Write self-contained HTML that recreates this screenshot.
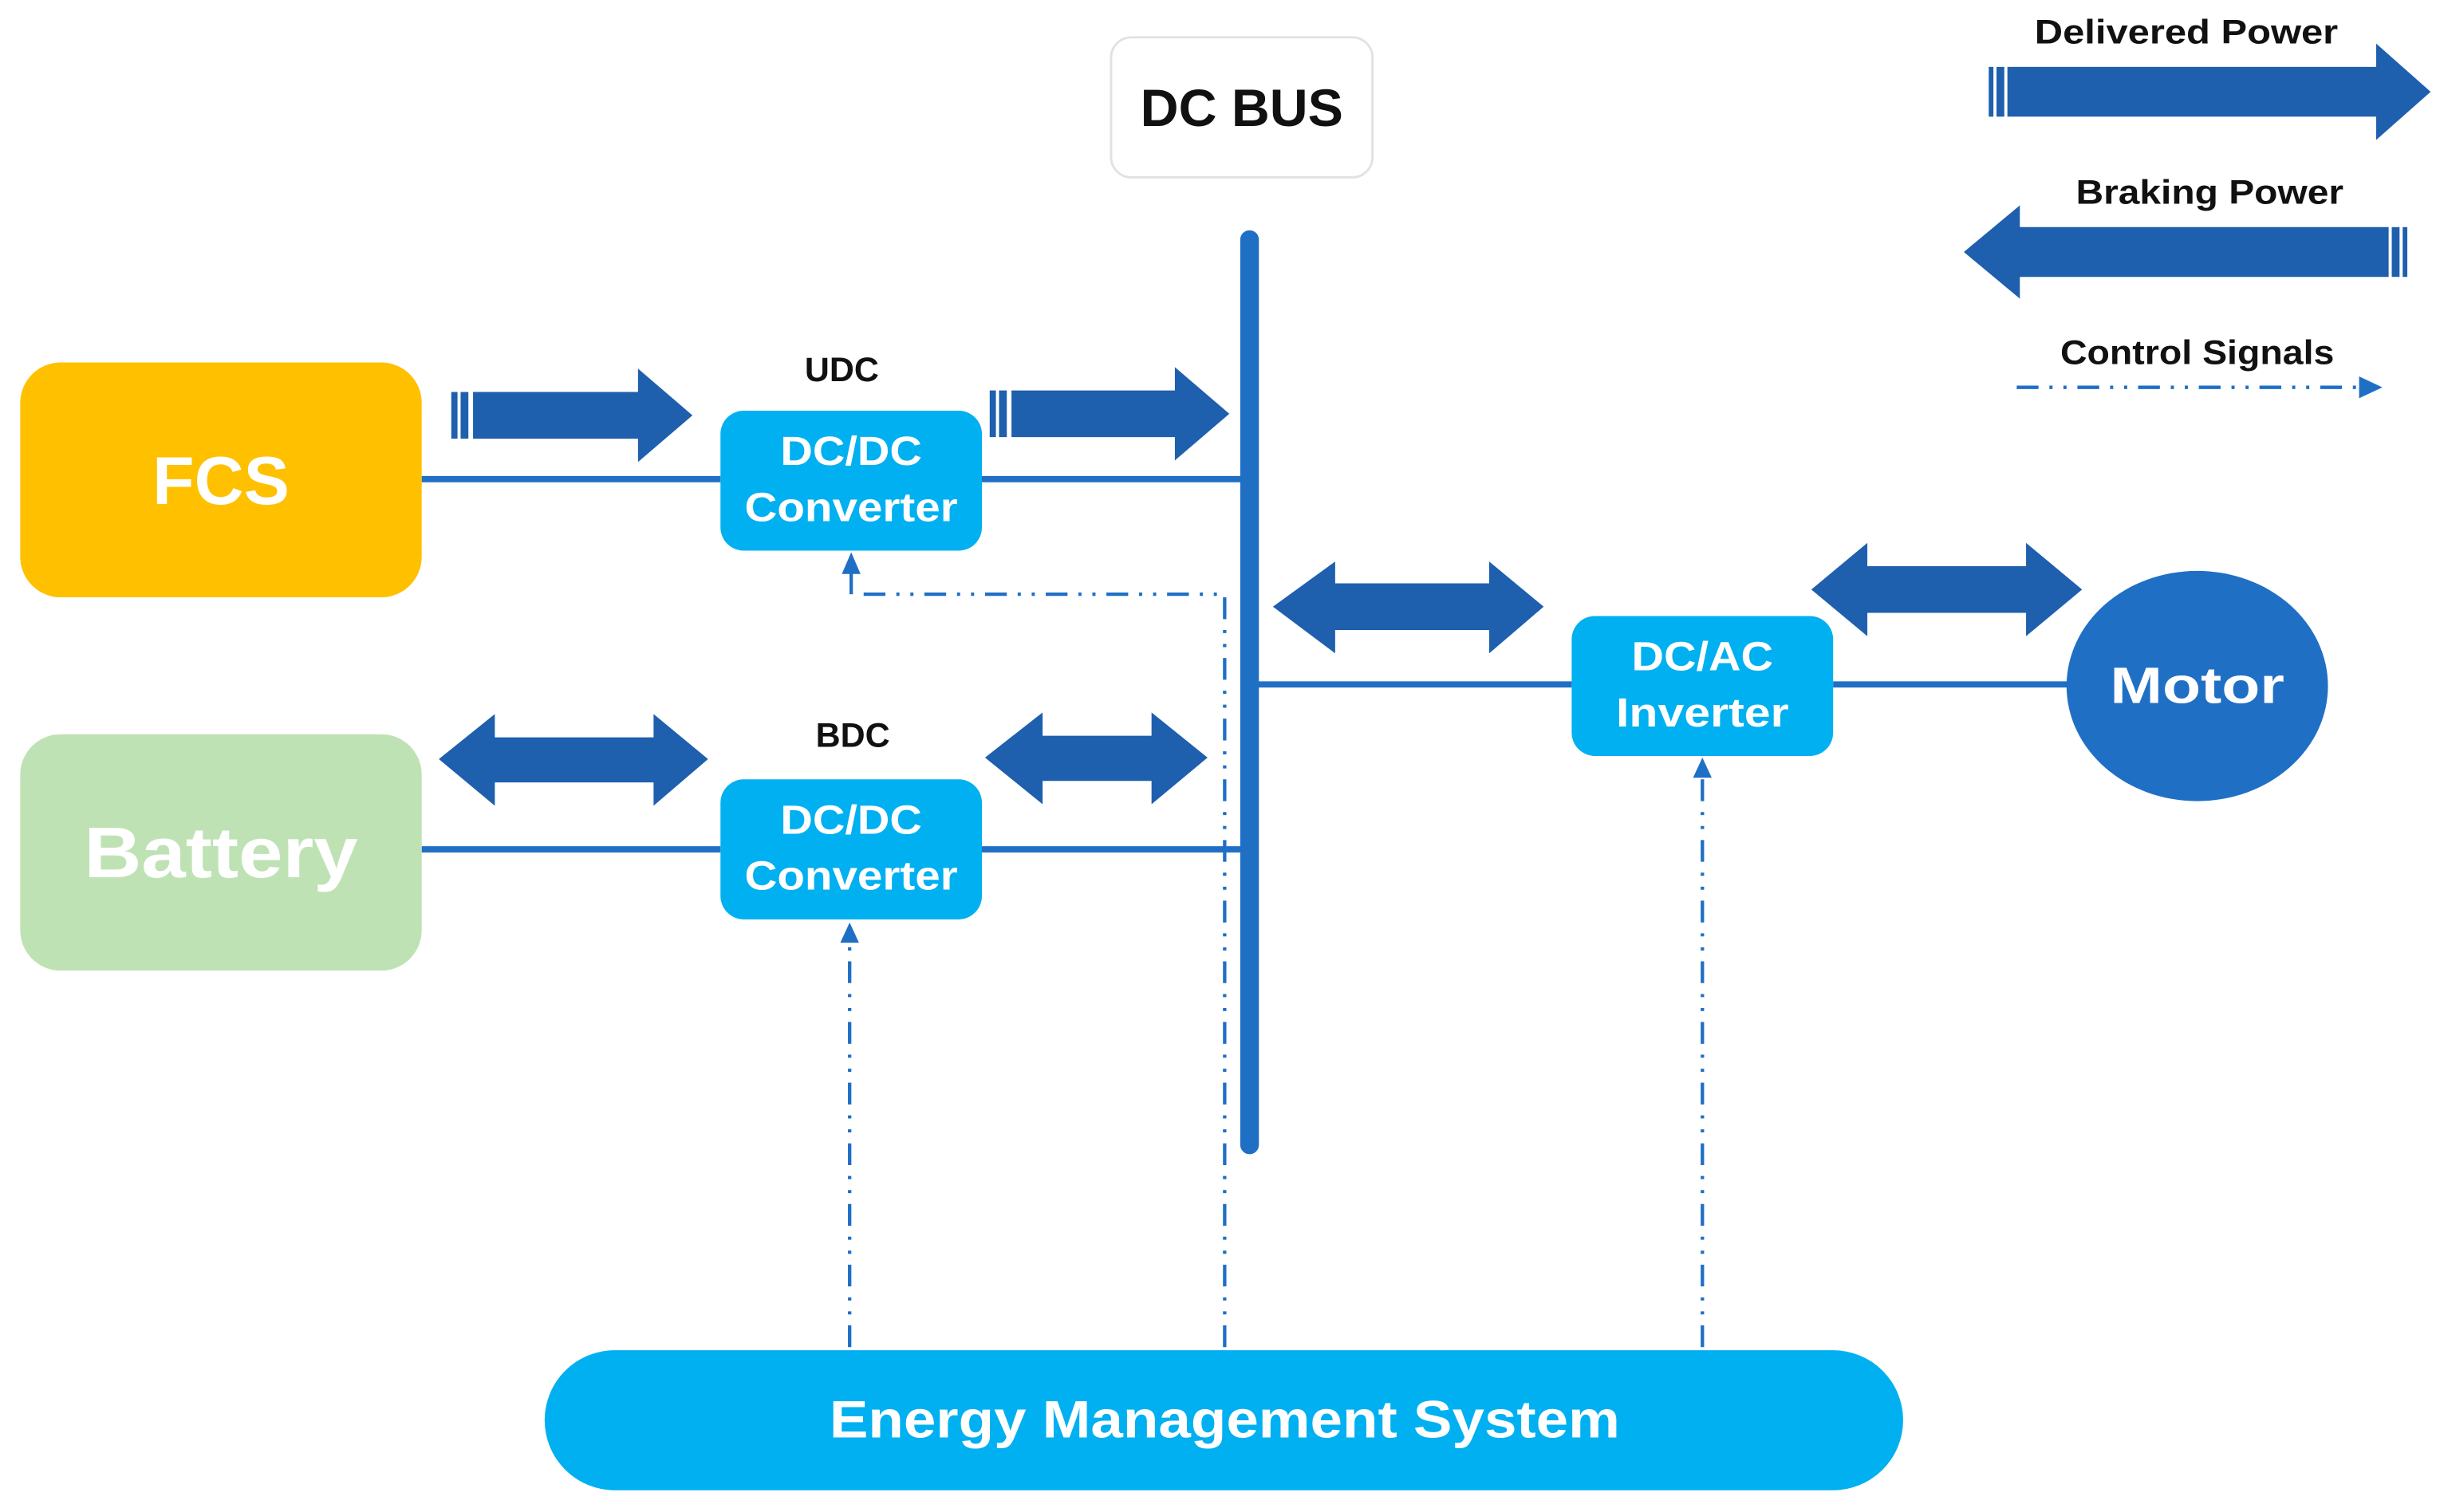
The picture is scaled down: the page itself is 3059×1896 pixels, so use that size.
<!DOCTYPE html>
<html><head><meta charset="utf-8"><style>
html,body{margin:0;padding:0;background:#fff;}
svg{display:block;}
text{font-family:"Liberation Sans",sans-serif;font-weight:bold;}
</style></head><body>
<svg width="3059" height="1896" viewBox="0 0 1568 972" preserveAspectRatio="none" xmlns="http://www.w3.org/2000/svg">
<rect x="0" y="0" width="1568" height="972" fill="#fff"/>
<rect x="714" y="24" width="168" height="90" rx="13" fill="#fff" stroke="#e2e2e2" stroke-width="1.5"/>
<text x="798" y="81" font-size="34" text-anchor="middle" fill="#111">DC BUS</text>
<g stroke="#1F6FC5" stroke-width="4">
<line x1="271" y1="308" x2="463" y2="308"/>
<line x1="631" y1="308" x2="800" y2="308"/>
<line x1="271" y1="546" x2="463" y2="546"/>
<line x1="631" y1="546" x2="800" y2="546"/>
<line x1="806" y1="440" x2="1010" y2="440"/>
<line x1="1178" y1="440" x2="1332" y2="440"/>
</g>
<rect x="797" y="148" width="12" height="594" rx="6" fill="#1F6FC5"/>
<g stroke="#1F6FC5" stroke-width="2.2" fill="none" stroke-dasharray="14 7 2 7 2 7">
<line x1="546" y1="866" x2="546" y2="600"/>
<polyline points="787,866 787,382 548,382"/>
<line x1="1094" y1="866" x2="1094" y2="496"/>
<line x1="1296" y1="249" x2="1518" y2="249"/>
</g>
<line x1="547" y1="382" x2="547" y2="366" stroke="#1F6FC5" stroke-width="2.2"/>
<g fill="#1F6FC5">
<polygon points="547,355 541,369 553,369"/>
<polygon points="546,593 540,606 552,606"/>
<polygon points="1094,487 1088,500 1100,500"/>
<polygon points="1531,249 1516,242 1516,256"/>
</g>
<rect x="13" y="233" width="258" height="151" rx="26" fill="#FFC000"/>
<text x="142" y="324" font-size="44" text-anchor="middle" fill="#fff">FCS</text>
<rect x="13" y="472" width="258" height="152" rx="26" fill="#BFE2B5"/>
<text x="142" y="564" font-size="46" text-anchor="middle" fill="#fff" textLength="176" lengthAdjust="spacingAndGlyphs">Battery</text>
<g fill="#00B0F0">
<rect x="463" y="264" width="168" height="90" rx="15"/>
<rect x="463" y="501" width="168" height="90" rx="15"/>
<rect x="1010" y="396" width="168" height="90" rx="15"/>
<rect x="350" y="868" width="873" height="90" rx="45"/>
</g>
<ellipse cx="1412" cy="441" rx="84" ry="74" fill="#1F6FC5"/>
<g fill="#fff" font-size="26" text-anchor="middle">
<text x="547" y="299" textLength="91" lengthAdjust="spacingAndGlyphs">DC/DC</text><text x="547" y="335" textLength="137" lengthAdjust="spacingAndGlyphs">Converter</text>
<text x="547" y="536" textLength="91" lengthAdjust="spacingAndGlyphs">DC/DC</text><text x="547" y="572" textLength="137" lengthAdjust="spacingAndGlyphs">Converter</text>
<text x="1094" y="431" textLength="91" lengthAdjust="spacingAndGlyphs">DC/AC</text><text x="1094" y="467" textLength="111" lengthAdjust="spacingAndGlyphs">Inverter</text>
<text x="1412" y="452" font-size="33" textLength="112" lengthAdjust="spacingAndGlyphs">Motor</text>
<text x="787" y="924" font-size="34" textLength="508" lengthAdjust="spacingAndGlyphs">Energy Management System</text>
</g>
<g fill="#111" font-size="22" text-anchor="middle">
<text x="541" y="245">UDC</text>
<text x="548" y="480">BDC</text>
<text x="1405" y="28" textLength="195" lengthAdjust="spacingAndGlyphs">Delivered Power</text>
<text x="1420" y="131" textLength="172" lengthAdjust="spacingAndGlyphs">Braking Power</text>
<text x="1412" y="234" textLength="176" lengthAdjust="spacingAndGlyphs">Control Signals</text>
</g>
<g fill="#1E5FAE">
<rect x="290" y="252" width="4" height="30"/><rect x="296" y="252" width="5" height="30"/>
<polygon points="304,252 410,252 410,237 445,267 410,297 410,282 304,282"/>
<rect x="636" y="251" width="4" height="30"/><rect x="642" y="251" width="5" height="30"/>
<polygon points="650,251 755,251 755,236 790,266 755,296 755,281 650,281"/>
<polygon points="282,488 318,459 318,474 420,474 420,459 455,488 420,518 420,503 318,503 318,518"/>
<polygon points="633,487 670,458 670,473 740,473 740,458 776,487 740,517 740,502 670,502 670,517"/>
<polygon points="818,390 858,361 858,375 957,375 957,361 992,390 957,420 957,405 858,405 858,420"/>
<polygon points="1164,379 1200,349 1200,364 1302,364 1302,349 1338,379 1302,409 1302,394 1200,394 1200,409"/>
<rect x="1278" y="43" width="3" height="32"/><rect x="1283" y="43" width="5" height="32"/>
<polygon points="1290,43 1527,43 1527,28 1562,59 1527,90 1527,75 1290,75"/>
<rect x="1544" y="146" width="3" height="32"/><rect x="1537" y="146" width="5" height="32"/>
<polygon points="1535,146 1298,146 1298,132 1262,162 1298,192 1298,178 1535,178"/>
</g>
</svg>
</body></html>
